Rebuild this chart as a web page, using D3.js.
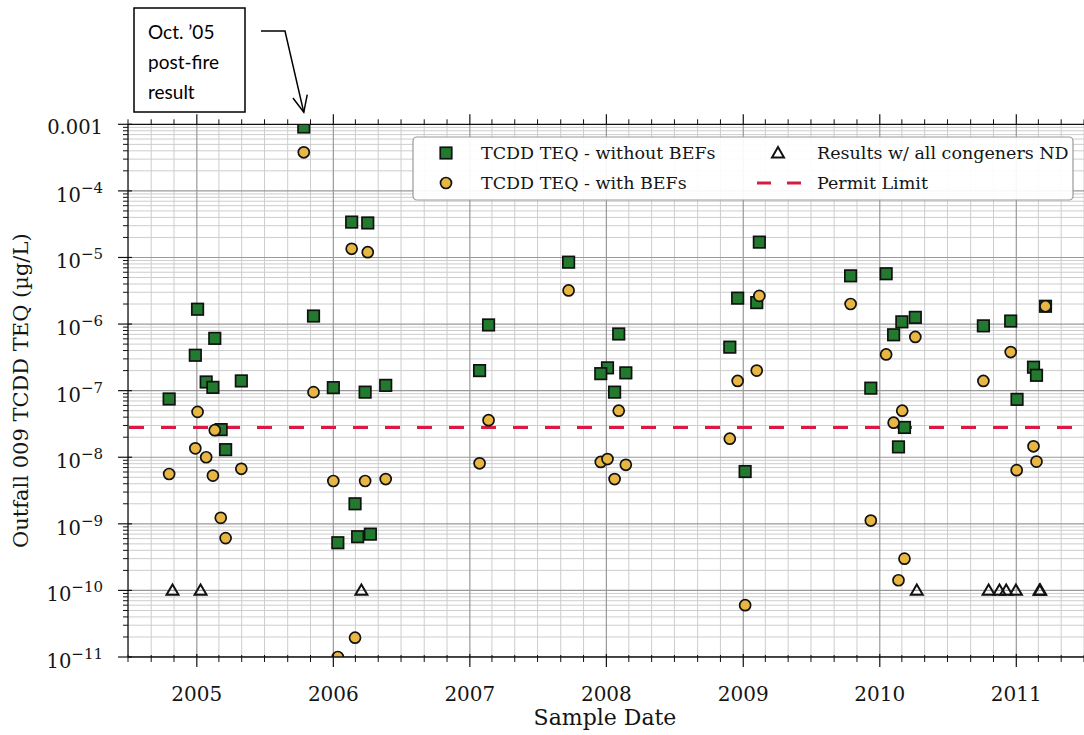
<!DOCTYPE html>
<html><head><meta charset="utf-8">
<script src="https://cdn.jsdelivr.net/npm/d3@7"></script>
<style>body{margin:0;background:#fff}svg{display:block}</style>
</head><body>
<svg id="chart" width="1084" height="735"></svg>
<script>
// ---------------- DATA ----------------
const withoutBEFDates = ["2004-10-19","2005-01-03","2004-12-28","2005-02-18","2005-01-26","2005-02-13","2005-04-30","2005-03-07","2005-03-19",
  "2005-10-14","2005-11-09","2006-01-01","2006-02-19","2006-04-03","2006-03-27","2006-05-21","2006-02-28","2006-01-13","2006-03-07","2006-04-10",
  "2007-02-20","2007-01-27","2007-09-22",
  "2008-02-03","2008-01-04","2007-12-17","2008-02-22","2008-01-23",
  "2009-02-13","2008-12-17","2009-02-06","2008-11-26","2009-01-06",
  "2009-10-15","2009-12-08","2010-01-18","2010-03-01","2010-02-07","2010-04-06","2010-03-08","2010-02-20",
  "2010-10-05","2010-12-17","2011-02-16","2011-02-24","2011-01-03","2011-03-20"];
const withoutBEFValues = [7.5e-8,1.67e-6,3.4e-7,6.1e-7,1.35e-7,1.12e-7,1.4e-7,2.6e-8,1.3e-8,
  9.1e-4,1.32e-6,1.11e-7,3.4e-5,3.3e-5,9.5e-8,1.2e-7,2.0e-9,5.2e-10,6.4e-10,7.0e-10,
  9.7e-7,2.0e-7,8.5e-6,
  7.1e-7,2.2e-7,1.8e-7,1.85e-7,9.5e-8,
  1.7e-5,2.45e-6,2.1e-6,4.5e-7,6.1e-9,
  5.3e-6,1.09e-7,5.7e-6,1.08e-6,6.9e-7,1.26e-6,2.8e-8,1.43e-8,
  9.4e-7,1.11e-6,2.25e-7,1.7e-7,7.4e-8,1.85e-6];

const withBEFDates = ["2004-10-19","2005-01-03","2004-12-28","2005-01-26","2005-02-13","2005-02-18","2005-04-30","2005-03-06","2005-03-19",
  "2005-10-14","2005-11-09","2006-02-19","2006-04-03","2006-01-01","2006-03-27","2006-05-21","2006-02-28","2006-01-13",
  "2007-02-20","2007-01-27","2007-09-22",
  "2008-02-03","2007-12-17","2008-01-04","2008-02-22","2008-01-23",
  "2009-02-13","2008-12-17","2009-02-06","2008-11-26","2009-01-06",
  "2009-10-15","2009-12-08","2010-01-18","2010-04-06","2010-03-02","2010-02-07","2010-03-08","2010-02-20",
  "2010-10-05","2010-12-17","2011-02-16","2011-02-24","2011-01-02","2011-03-20"];
const withBEFValues = [5.6e-9,4.8e-8,1.36e-8,1.0e-8,5.3e-9,2.55e-8,6.7e-9,1.23e-9,6.1e-10,
  3.8e-4,9.5e-8,1.35e-5,1.2e-5,4.4e-9,4.4e-9,4.7e-9,1.95e-11,1.0e-11,
  3.6e-8,8.1e-9,3.2e-6,
  5.0e-8,8.5e-9,9.4e-9,7.7e-9,4.7e-9,
  2.65e-6,1.4e-7,2.0e-7,1.9e-8,6.0e-11,
  2.0e-6,1.12e-9,3.5e-7,6.4e-7,5.0e-8,3.3e-8,3.0e-10,1.42e-10,
  1.4e-7,3.8e-7,1.46e-8,8.6e-9,6.4e-9,1.85e-6];

const allNDDates = ["2004-10-28","2005-01-11","2006-03-17","2010-04-10","2010-10-19","2010-11-17","2010-12-05","2010-12-31","2011-03-04","2011-03-06"];
const allNDValues = [1e-10,1e-10,1e-10,1e-10,1e-10,1e-10,1e-10,1e-10,1e-10,1e-10];

const permitLimit = 2.8e-8;
const yTickValues = [1e-3,1e-4,1e-5,1e-6,1e-7,1e-8,1e-9,1e-10,1e-11];
const yTickLabels = ["0.001","10|−4","10|−5","10|−6","10|−7","10|−8","10|−9","10|−10","10|−11"];
const xTickYears = [2005,2006,2007,2008,2009,2010,2011];
const legendLabels = ["TCDD TEQ - without BEFs","TCDD TEQ - with BEFs","Results w/ all congeners ND","Permit Limit"];
const annotationLines = ["Oct. \u201905","post-fire","result"];
const postFireDate = "2005-10-14";

// ---------------- SETUP ----------------
const parse = d3.timeParse("%Y-%m-%d");
const svg = d3.select("#chart");
const L = 128, R = 1084, T = 124.3, B = 657;
const SERIF = "'DejaVu Serif', serif";
const GREEN = "#217a2e", GOLD = "#e8b642", RED = "#d81b45", INK = "#151515";

const x = d3.scaleTime().domain([new Date(2004,6,1), new Date(2011,6,1)]).range([L, R]);
const y = d3.scaleLog().domain([1e-11, 1e-3]).range([B, T]);

svg.append("rect").attr("width",1084).attr("height",735).attr("fill","#fff");
svg.append("defs").append("clipPath").attr("id","clip")
  .append("rect").attr("x",L).attr("y",T).attr("width",R-L).attr("height",B-T);

const yMinor = [];
for (let e=-11; e<-3; e++) for (let m=2; m<=9; m++) yMinor.push(m*Math.pow(10,e));
const xMinor = x.ticks(d3.timeMonth.every(2)).filter(d => d.getMonth() !== 0);
const xMajor = xTickYears.map(yr => new Date(yr,0,1));

// ---------------- GRID ----------------
const grid = svg.append("g").attr("clip-path","url(#clip)");
grid.selectAll(".gy-minor").data(yMinor).join("line")
  .attr("x1",L).attr("x2",R).attr("y1",d=>y(d)).attr("y2",d=>y(d))
  .attr("stroke","#cdcdcd").attr("stroke-width",1);
grid.selectAll(".gx-minor").data(xMinor).join("line")
  .attr("x1",d=>x(d)).attr("x2",d=>x(d)).attr("y1",T).attr("y2",B)
  .attr("stroke","#cdcdcd").attr("stroke-width",1);
grid.selectAll(".gy-major").data(yTickValues).join("line")
  .attr("x1",L).attr("x2",R).attr("y1",d=>y(d)).attr("y2",d=>y(d))
  .attr("stroke","#999").attr("stroke-width",1.2);
grid.selectAll(".gx-major").data(xMajor).join("line")
  .attr("x1",d=>x(d)).attr("x2",d=>x(d)).attr("y1",T).attr("y2",B)
  .attr("stroke","#999").attr("stroke-width",1.2);

// ---------------- PERMIT LINE ----------------
const plot = svg.append("g").attr("clip-path","url(#clip)");
plot.append("line").attr("x1",L+1).attr("x2",R).attr("y1",y(permitLimit)).attr("y2",y(permitLimit))
  .attr("stroke",RED).attr("stroke-width",3).attr("stroke-dasharray","15,17");

// ---------------- MARKERS ----------------
const sq = 11.5, cr = 5.5;
const without = withoutBEFDates.map((d,i)=>({d:parse(d), v:withoutBEFValues[i]}));
const withB = withBEFDates.map((d,i)=>({d:parse(d), v:withBEFValues[i]}));
const nd = allNDDates.map((d,i)=>({d:parse(d), v:allNDValues[i]}));

plot.selectAll(".sq").data(without).join("rect")
  .attr("x",p=>x(p.d)-sq/2).attr("y",p=>y(p.v)-sq/2).attr("width",sq).attr("height",sq)
  .attr("fill",GREEN).attr("stroke","#111").attr("stroke-width",1.7);
plot.selectAll(".ci").data(withB).join("circle")
  .attr("cx",p=>x(p.d)).attr("cy",p=>y(p.v)).attr("r",cr)
  .attr("fill",GOLD).attr("stroke","#111").attr("stroke-width",1.7);
const tri = d3.symbol().type(d3.symbolTriangle).size(62);
plot.selectAll(".tr").data(nd).join("path")
  .attr("d",tri).attr("transform",p=>`translate(${x(p.d)},${y(p.v)+1})`)
  .attr("fill","none").attr("stroke","#111").attr("stroke-width",2);

// ---------------- SPINES & TICKS ----------------
const ax = svg.append("g").attr("stroke","#111");
ax.append("line").attr("x1",L).attr("x2",L).attr("y1",T).attr("y2",B).attr("stroke-width",1.3);
ax.append("line").attr("x1",L).attr("x2",R).attr("y1",B).attr("y2",B).attr("stroke-width",1.3);
ax.append("line").attr("x1",L).attr("x2",R).attr("y1",T).attr("y2",T).attr("stroke-width",1.3);
ax.selectAll(".yt").data(yTickValues).join("line")
  .attr("x1",L-10).attr("x2",L+4).attr("y1",d=>y(d)).attr("y2",d=>y(d)).attr("stroke-width",1.2);
ax.selectAll(".ytm").data(yMinor).join("line")
  .attr("x1",L-5).attr("x2",L).attr("y1",d=>y(d)).attr("y2",d=>y(d)).attr("stroke-width",1);
ax.selectAll(".xt").data(xMajor).join("line")
  .attr("x1",d=>x(d)).attr("x2",d=>x(d)).attr("y1",B-3).attr("y2",B+10).attr("stroke-width",1.2);
ax.selectAll(".xtm").data(xMinor).join("line")
  .attr("x1",d=>x(d)).attr("x2",d=>x(d)).attr("y1",B-2).attr("y2",B+5).attr("stroke-width",1);
ax.selectAll(".xtt").data(xMajor).join("line")
  .attr("x1",d=>x(d)).attr("x2",d=>x(d)).attr("y1",T-10).attr("y2",T).attr("stroke-width",1.2);
ax.selectAll(".xttm").data(xMinor).join("line")
  .attr("x1",d=>x(d)).attr("x2",d=>x(d)).attr("y1",T-5).attr("y2",T).attr("stroke-width",1);

// ---------------- TICK LABELS ----------------
const tl = svg.append("g").attr("font-family",SERIF).attr("fill",INK);
tl.selectAll(".xl").data(xMajor).join("text")
  .attr("x",d=>x(d)).attr("y",701).attr("text-anchor","middle").attr("font-size",20)
  .text(d=>d.getFullYear());
yTickValues.forEach((v,i)=>{
  const parts = yTickLabels[i].split("|");
  const t = tl.append("text").attr("x",103).attr("text-anchor","end").attr("font-size",19.5);
  if (parts.length===1) { t.attr("y",y(v)+9.5).text(parts[0]); }
  else {
    t.attr("y",y(v)+11);
    t.append("tspan").text(parts[0]);
    t.append("tspan").attr("font-size",15).attr("dy",-9).text(parts[1]);
  }
});

svg.append("text").attr("x",605).attr("y",725).attr("text-anchor","middle")
  .attr("font-family",SERIF).attr("font-size",22).attr("fill",INK).text("Sample Date");
svg.append("text").attr("transform",`translate(28,${(T+B)/2}) rotate(-90)`).attr("text-anchor","middle")
  .attr("font-family",SERIF).attr("font-size",21).attr("fill",INK).text("Outfall 009 TCDD TEQ (\u00b5g/L)");

// ---------------- LEGEND ----------------
const lg = svg.append("g");
lg.append("rect").attr("x",413).attr("y",137).attr("width",660).attr("height",63).attr("rx",4)
  .attr("fill","#fff").attr("fill-opacity",0.92).attr("stroke","#999").attr("stroke-width",1.2);
const r1 = 153, r2 = 183;
lg.append("rect").attr("x",446-sq/2).attr("y",r1-sq/2).attr("width",sq).attr("height",sq)
  .attr("fill",GREEN).attr("stroke","#111").attr("stroke-width",1.7);
lg.append("circle").attr("cx",446).attr("cy",r2).attr("r",cr)
  .attr("fill",GOLD).attr("stroke","#111").attr("stroke-width",1.7);
lg.append("path").attr("d",tri).attr("transform",`translate(778,${r1+1})`)
  .attr("fill","none").attr("stroke","#111").attr("stroke-width",2);
lg.append("line").attr("x1",757).attr("x2",801).attr("y1",r2).attr("y2",r2)
  .attr("stroke",RED).attr("stroke-width",3).attr("stroke-dasharray","14,16");
const lt = [[481,r1],[481,r2],[817,r1],[817,r2]];
lg.selectAll(".lt").data(legendLabels).join("text")
  .attr("x",(d,i)=>lt[i][0]).attr("y",(d,i)=>lt[i][1]+6)
  .attr("font-family",SERIF).attr("font-size",17.5).attr("fill",INK).text(d=>d);

// ---------------- ANNOTATION ----------------
const an = svg.append("g");
an.append("rect").attr("x",134).attr("y",8).attr("width",111).attr("height",104)
  .attr("fill","#fff").attr("stroke","#000").attr("stroke-width",1.5);
an.selectAll(".at").data(annotationLines).join("text")
  .attr("x",148).attr("y",(d,i)=>39+i*30).attr("font-family","Lato, sans-serif")
  .attr("font-size",19).attr("fill","#000").text(d=>d);
const tipX = x(parse(postFireDate)), tipY = T - 12;
const sx = 261, sy = 31, kx = 285;
an.append("polyline").attr("points",`${sx},${sy} ${kx},${sy} ${tipX},${tipY}`)
  .attr("fill","none").attr("stroke","#000").attr("stroke-width",1.5);
const ang = Math.atan2(tipY-sy, tipX-kx), hl = 18, ha = 0.42;
an.append("polyline").attr("points",
  `${tipX-hl*Math.cos(ang-ha)},${tipY-hl*Math.sin(ang-ha)} ${tipX},${tipY} ${tipX-hl*Math.cos(ang+ha)},${tipY-hl*Math.sin(ang+ha)}`)
  .attr("fill","none").attr("stroke","#000").attr("stroke-width",1.5);
</script>
</body></html>
